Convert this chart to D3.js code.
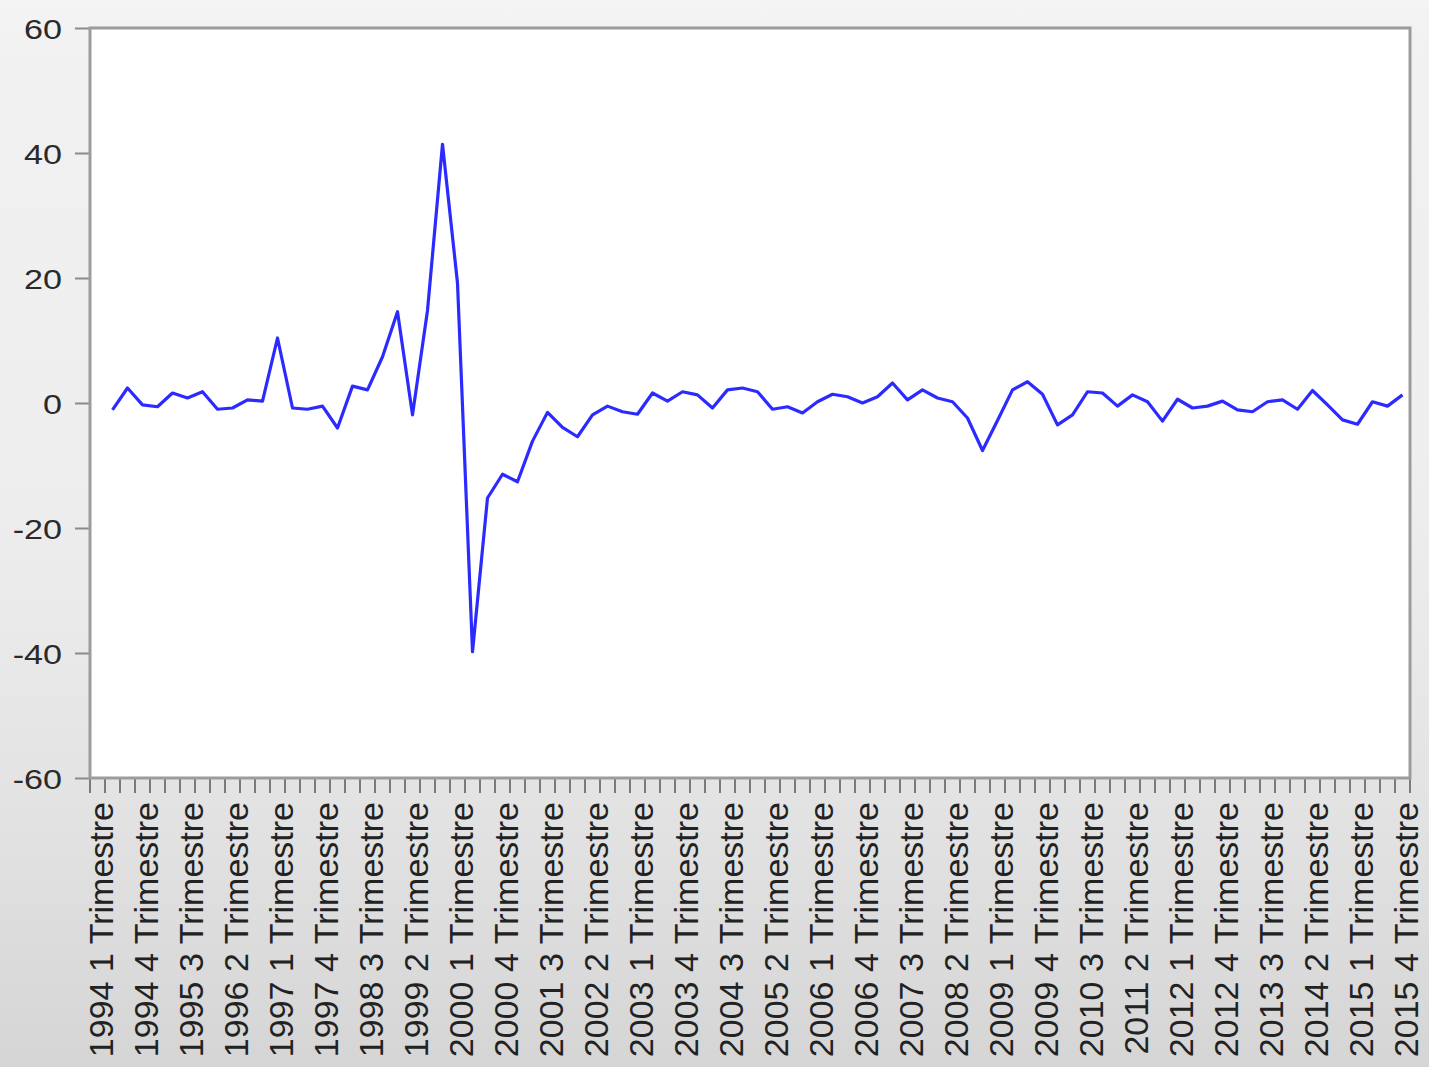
<!DOCTYPE html>
<html>
<head>
<meta charset="utf-8">
<script src="https://cdn.jsdelivr.net/npm/d3@7"></script>
<style>
  html, body { margin: 0; padding: 0; }
  body { width: 1429px; height: 1067px; overflow: hidden; }
</style>
</head>
<body>
<svg id="chart" width="1429" height="1067"></svg>
<script>
// ---- data ----
const years = [1994,1995,1996,1997,1998,1999,2000,2001,2002,2003,2004,2005,2006,2007,2008,2009,2010,2011,2012,2013,2014,2015];
const quarters = [1,2,3,4];
const categories = [];
years.forEach(y => quarters.forEach(q => categories.push(y + " " + q)));

const values = [
  null, -1.1, 2.4, -0.3, -0.6, 1.6, 0.8, 1.8,
  -1.0, -0.8, 0.5, 0.3, 10.4, -0.8, -1.0, -0.5,
  -4.0, 2.7, 2.1, 7.4, 14.6, -1.9, 14.8, 41.4,
  19.2, -39.8, -15.2, -11.4, -12.6, -6.1, -1.5, -3.9,
  -5.4, -1.9, -0.5, -1.4, -1.8, 1.6, 0.3, 1.8,
  1.3, -0.8, 2.1, 2.4, 1.8, -1.0, -0.6, -1.6,
  0.2, 1.4, 1.0, 0.0, 1.0, 3.2, 0.5, 2.1,
  0.8, 0.2, -2.4, -7.6, -2.8, 2.1, 3.4, 1.4,
  -3.5, -1.9, 1.8, 1.6, -0.5, 1.3, 0.2, -2.9,
  0.6, -0.8, -0.5, 0.3, -1.1, -1.4, 0.2, 0.5,
  -1.0, 2.0, -0.3, -2.7, -3.4, 0.2, -0.5, 1.3
];

const tickCategories = ["1994 1","1994 4","1995 3","1996 2","1997 1","1997 4","1998 3","1999 2",
  "2000 1","2000 4","2001 3","2002 2","2003 1","2003 4","2004 3","2005 2","2006 1","2006 4",
  "2007 3","2008 2","2009 1","2009 4","2010 3","2011 2","2012 1","2012 4","2013 3","2014 2",
  "2015 1","2015 4"];
const tickLabels = tickCategories.map(c => c + " Trimestre");
const yTicks = [60, 40, 20, 0, -20, -40, -60];

// ---- layout ----
const L = 90, R = 1410, T = 28, B = 778;
const svg = d3.select("#chart");

// background gradient
const defs = svg.append("defs");
const grad = defs.append("linearGradient").attr("id", "bg").attr("x1", 0).attr("y1", 0).attr("x2", 0).attr("y2", 1);
[[0, "#f4f4f4"], [0.05, "#f1f1f1"], [0.45, "#eeeeee"], [0.6, "#e9e9e9"], [0.75, "#e3e3e3"], [0.88, "#dcdcdc"], [1, "#d5d5d5"]]
  .forEach(([o, c]) => grad.append("stop").attr("offset", o).attr("stop-color", c));
svg.append("rect").attr("width", 1429).attr("height", 1067).attr("fill", "url(#bg)");

// plot area
svg.append("rect").attr("x", L).attr("y", T).attr("width", R - L).attr("height", B - T)
  .attr("fill", "#ffffff");

const x = d3.scaleBand().domain(categories).range([L, R]).paddingInner(0).paddingOuter(0);
const y = d3.scaleLinear().domain([-60, 60]).range([B, T]);
const cx = c => x(c) + x.bandwidth() / 2;

// y axis ticks and labels
const yAxis = d3.axisLeft(y).tickValues(yTicks).tickSize(15).tickPadding(12).tickFormat(d => String(d));
const gy = svg.append("g").attr("transform", `translate(${L},0)`).call(yAxis);
gy.select(".domain").remove();
gy.selectAll(".tick line").attr("stroke", "#8a8a8a").attr("stroke-width", 2);
gy.selectAll(".tick text")
  .attr("font-family", "Liberation Sans, Arial, sans-serif")
  .attr("font-size", 28).attr("fill", "#2a2a2a")
  .attr("x", 0).attr("dy", "0.36em")
  .attr("text-anchor", "end")
  .attr("transform", "translate(-28,0) scale(1.22,1)");

// x ticks at observation boundaries
const boundaries = categories.map(c => x(c)).concat([R]);
svg.append("g").selectAll("line").data(boundaries).join("line")
  .attr("x1", d => d).attr("x2", d => d)
  .attr("y1", B).attr("y2", B + 15)
  .attr("stroke", "#7a7a7a").attr("stroke-width", 2);

// x labels
svg.append("g").selectAll("text").data(tickCategories).join("text")
  .attr("transform", (d) => `translate(${cx(d) + 3},${B + 24}) rotate(-90)`)
  .attr("text-anchor", "end")
  .attr("dy", "0.36em")
  .attr("font-family", "Liberation Sans, Arial, sans-serif")
  .attr("font-size", 34).attr("fill", "#222")
  .text((d, i) => tickLabels[i]);

// frame
svg.append("rect").attr("x", L).attr("y", T).attr("width", R - L).attr("height", B - T)
  .attr("fill", "none").attr("stroke", "#9c9c9c").attr("stroke-width", 3);

// line
const data = categories.map((c, i) => ({ c, v: values[i] }));
const line = d3.line().defined(d => d.v !== null).x(d => cx(d.c)).y(d => y(d.v));
svg.append("path").datum(data)
  .attr("d", line)
  .attr("fill", "none")
  .attr("stroke", "#2b2bff")
  .attr("stroke-width", 3.2)
  .attr("stroke-linejoin", "round");
</script>
</body>
</html>
